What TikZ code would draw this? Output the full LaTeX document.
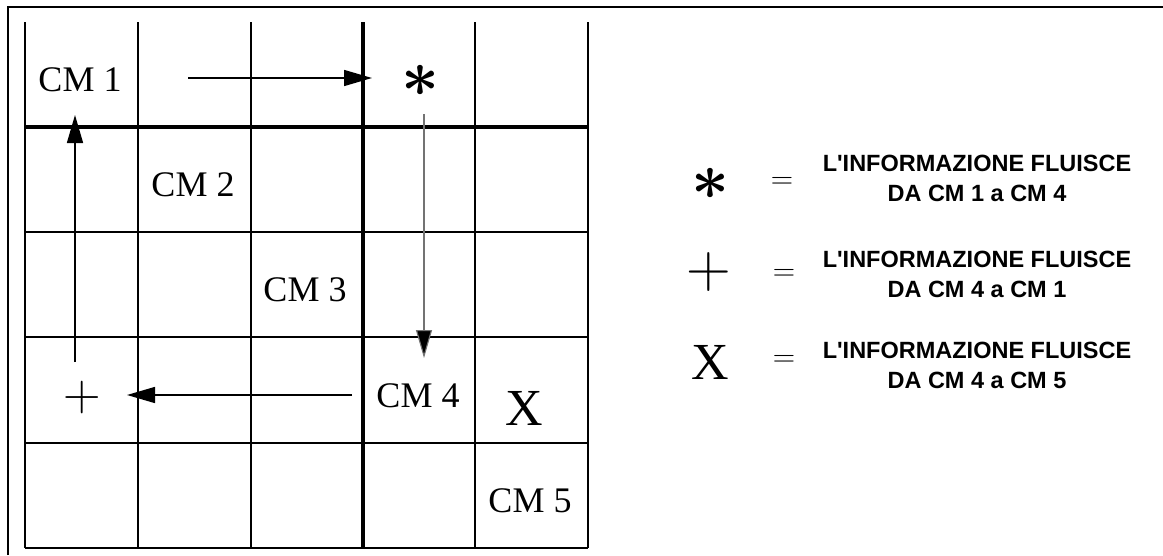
\documentclass[tikz,border=0pt]{standalone}
\usepackage{fix-cm}
\usepackage[no-math]{fontspec}
\setmainfont{Liberation Serif}
\newfontfamily\legfont{Liberation Sans}[Ligatures=TeXOff]
\usetikzlibrary{arrows.meta}
\begin{document}
\begin{tikzpicture}[x=1pt,y=-1pt,
  gridline/.style={line width=1.6pt},
  majorline/.style={line width=3.2pt},
  frameline/.style={line width=2.5pt},
  flow/.style={line width=1.5pt,-{Triangle[length=28pt,width=16pt]}},
  cmlabel/.style={font=\fontsize{36}{40}\selectfont,inner sep=0pt},
  symb/.style={inner sep=0pt},
  eqsign/.style={inner sep=0pt,font=\fontsize{31}{34}\selectfont},
  legtxt/.style={font=\legfont\bfseries\fontsize{23.5}{30}\selectfont,align=center,inner sep=0pt}]
\useasboundingbox (0,0) rectangle (1163,555);
% frame
\draw[frameline] (8,555) -- (8,7) -- (1163,7);
% grid
\foreach \x in {25,138,251,475,588} \draw[gridline] (\x,22) -- (\x,548);
\draw[majorline] (363,22) -- (363,548);
\foreach \y in {232,337,443,548} \draw[gridline] (25,\y) -- (588,\y);
\draw[majorline] (25,127) -- (588,127);
% labels
\node[cmlabel] (cm1) at (80,80) {CM 1};
\node[cmlabel] (cm2) at (193,185) {CM 2};
\node[cmlabel] (cm3) at (305,290) {CM 3};
\node[cmlabel] (cm4) at (418,396) {CM 4};
\node[cmlabel] (cm5) at (530,501) {CM 5};
% symbols in grid
\node[symb,font=\fontsize{66}{70}\selectfont\boldmath] (ast) at (420,81) {$\ast$};
\node[symb,font=\fontsize{52}{56}\selectfont] (plus) at (82,397) {$+$};
\node[symb,font=\fontsize{52}{56}\selectfont] (xx) at (524,408) {X};
% arrows
\coordinate (a1s) at (188,78); \coordinate (a1e) at (372,78);
\coordinate (a2s) at (424,114); \coordinate (a2e) at (424,358);
\coordinate (a3s) at (352,395); \coordinate (a3e) at (127,395);
\coordinate (a4s) at (75,362); \coordinate (a4e) at (75,115);
\draw[flow] (a1s) -- (a1e);
\draw[flow,line width=1.1pt,draw=black!55,{-{Triangle[length=28pt,width=16pt,fill=black]}}] (a2s) -- (a2e);
\draw[flow] (a3s) -- (a3e);
\draw[flow] (a4s) -- (a4e);
% legend
\node[symb,font=\fontsize{66}{70}\selectfont\boldmath] (last) at (710,184) {$\ast$};
\node[symb,font=\fontsize{62}{66}\selectfont] (lplus) at (709,272) {$+$};
\node[symb,font=\fontsize{52}{56}\selectfont] (lx) at (710,362) {X};
\node[eqsign] (eq1) at (782,183) {$=$};
\node[eqsign] (eq2) at (784,275) {$=$};
\node[eqsign] (eq3) at (784,361) {$=$};
\node[legtxt] (t1) at (977,178) {L'INFORMAZIONE FLUISCE\\DA CM 1 a CM 4};
\node[legtxt] (t2) at (977,274) {L'INFORMAZIONE FLUISCE\\DA CM 4 a CM 1};
\node[legtxt] (t3) at (977,365) {L'INFORMAZIONE FLUISCE\\DA CM 4 a CM 5};
\end{tikzpicture}
\end{document}
